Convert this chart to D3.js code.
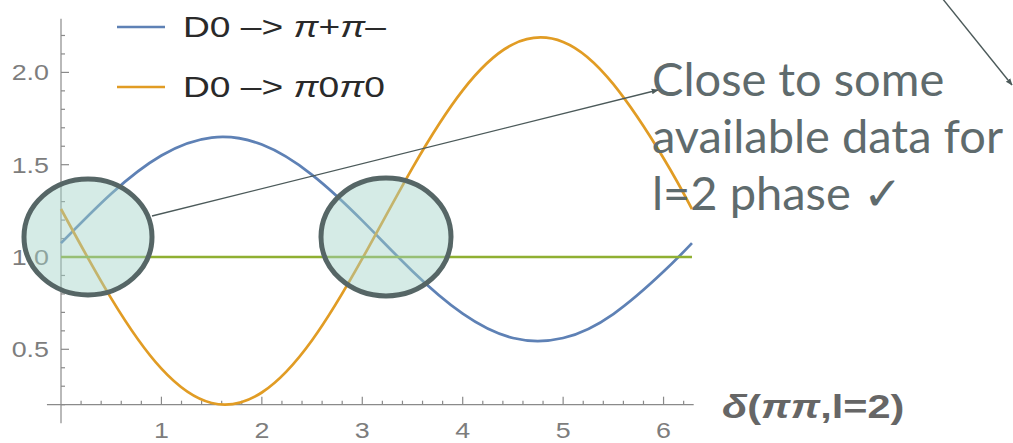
<!DOCTYPE html>
<html>
<head>
<meta charset="utf-8">
<script src="https://cdn.jsdelivr.net/npm/d3@7"></script>
<style>
  html, body { margin: 0; padding: 0; background: #fff; }
  svg { display: block; }
</style>
</head>
<body>
<svg id="chart" width="1013" height="443"></svg>
<script>
// Sample points of the phase scan (delta in radians)
const delta = [0, 0.5, 1.0, 1.5, 2.0, 2.5, 3.0, 3.5, 4.0, 4.5, 5.0, 5.5, 6.0, 6.283];
// Ratio for D0 -> pi+ pi-
const ratioPiPi = [1.075, 1.343, 1.550, 1.647, 1.609, 1.445, 1.197, 0.923, 0.693, 0.561, 0.561, 0.691, 0.921, 1.075];
// Ratio for D0 -> pi0 pi0
const ratioPi0Pi0 = [1.260, 0.776, 0.395, 0.209, 0.266, 0.549, 0.991, 1.483, 1.903, 2.152, 2.165, 1.936, 1.535, 1.260];
// Reference level
const refLevel = [1.0, 1.0];
const refDelta = [0, 6.283];

const xMajor = [1, 2, 3, 4, 5, 6];
const yMajor = [0.5, 1.0, 1.5, 2.0];

const svg = d3.select("#chart");

const x = d3.scaleLinear().domain([0, 2 * Math.PI]).range([61, 692]);
const y = d3.scaleLinear().domain([1.0, 2.0]).range([257, 72.4]);

const axisColor = "#8a8a8a";
const tickFont = "'Liberation Sans', Arial, sans-serif";

// text placed at (px, py), stretched horizontally by sx
function stretchedText(parent, px, py, sx) {
  return parent.append("text")
    .attr("transform", `translate(${px},${py}) scale(${sx},1)`);
}

// ---- axes ----
const axes = svg.append("g");
// x axis crosses at y = 0.2
const xAxisY = y(0.2);
axes.append("line")
  .attr("x1", x(-0.14)).attr("x2", x(6.3))
  .attr("y1", xAxisY).attr("y2", xAxisY)
  .attr("stroke", axisColor).attr("stroke-width", 1.2);
axes.append("line")
  .attr("x1", x(0)).attr("x2", x(0))
  .attr("y1", y(2.29)).attr("y2", y(0.1))
  .attr("stroke", axisColor).attr("stroke-width", 1.2);

// x ticks (minor every 0.2, major on integers)
const xMinor = d3.range(1, 32).map(i => +(i * 0.2).toFixed(2)).filter(v => v <= 6.3);
axes.selectAll(".xt").data(xMinor).enter().append("line")
  .attr("x1", d => x(d)).attr("x2", d => x(d))
  .attr("y1", xAxisY)
  .attr("y2", d => xAxisY - (xMajor.includes(d) ? 8 : 4))
  .attr("stroke", axisColor).attr("stroke-width", 1.2);
xMajor.forEach(d => {
  stretchedText(axes, x(d), 438, 1.22)
    .attr("text-anchor", "middle")
    .attr("font-family", tickFont).attr("font-size", 22)
    .attr("fill", "#7d7d7d")
    .text(d);
});

// y ticks (minor every 0.1, major every 0.5)
const yMinor = d3.range(2, 23).map(i => +(i * 0.1).toFixed(2));
axes.selectAll(".yt").data(yMinor).enter().append("line")
  .attr("x1", x(0))
  .attr("x2", d => x(0) + (yMajor.some(m => Math.abs(m - d) < 1e-6) ? 8 : 4))
  .attr("y1", d => y(d)).attr("y2", d => y(d))
  .attr("stroke", axisColor).attr("stroke-width", 1.2);
yMajor.forEach(d => {
  stretchedText(axes, 49, y(d) + 8, 1.22)
    .attr("text-anchor", "end")
    .attr("font-family", tickFont).attr("font-size", 22)
    .attr("fill", "#7d7d7d")
    .text(d.toFixed(1));
});

// axis label
const xl = stretchedText(svg, 722, 418, 1.22)
  .attr("font-family", tickFont).attr("font-size", 34)
  .attr("font-weight", "bold").attr("fill", "#666");
xl.append("tspan").attr("font-style", "italic").text("δ");
xl.append("tspan").text("(");
xl.append("tspan").attr("font-style", "italic").text("ππ");
xl.append("tspan").text(",l=2)");

// ---- curves ----
const line = d3.line()
  .x(d => x(d[0])).y(d => y(d[1]))
  .curve(d3.curveNatural);

const series = [
  { vals: ratioPiPi, xs: delta, color: "#5e81b5" },
  { vals: ratioPi0Pi0, xs: delta, color: "#e19c24" },
  { vals: refLevel, xs: refDelta, color: "#8fb032" }
];
svg.append("g").selectAll("path").data(series).enter().append("path")
  .attr("d", s => line(s.xs.map((d, i) => [d, s.vals[i]])))
  .attr("fill", "none")
  .attr("stroke", s => s.color)
  .attr("stroke-width", 2.7);

// ---- legend ----
const legend = [
  { color: "#5e81b5", y: 27, parts: [["D0 –> ", false], ["π", true], ["+", false], ["π", true], ["–", false]] },
  { color: "#e19c24", y: 87, parts: [["D0 –> ", false], ["π", true], ["0", false], ["π", true], ["0", false]] }
];
const lg = svg.append("g");
legend.forEach(l => {
  lg.append("line").attr("x1", 117).attr("x2", 165).attr("y1", l.y).attr("y2", l.y)
    .attr("stroke", l.color).attr("stroke-width", 2.7);
  const t = stretchedText(lg, 183, l.y + 10, 1.24)
    .attr("font-family", tickFont).attr("font-size", 30).attr("fill", "#2a2a2a");
  l.parts.forEach(p => t.append("tspan").attr("font-style", p[1] ? "italic" : "normal").text(p[0]));
});

// ---- annotation ----
const ann = svg.append("g");
const defs = svg.append("defs");
defs.append("marker").attr("id", "arrow")
  .attr("viewBox", "0 0 10 10").attr("refX", 9).attr("refY", 5)
  .attr("markerWidth", 7).attr("markerHeight", 7).attr("orient", "auto")
  .attr("markerUnits", "userSpaceOnUse")
  .append("path").attr("d", "M0,1 L10,5 L0,9 Z").attr("fill", "#4c5a5a");

// highlight ellipses around the crossings
const rings = [
  { cx: 88, cy: 237, rx: 64, ry: 58 },
  { cx: 386, cy: 237, rx: 65, ry: 59 }
];
ann.selectAll("ellipse").data(rings).enter().append("ellipse")
  .attr("cx", d => d.cx).attr("cy", d => d.cy)
  .attr("rx", d => d.rx).attr("ry", d => d.ry)
  .attr("fill", "rgba(162,211,199,0.45)")
  .attr("stroke", "#566666").attr("stroke-width", 5);

ann.append("line")
  .attr("x1", 152).attr("y1", 216).attr("x2", 658).attr("y2", 90)
  .attr("stroke", "#4c5a5a").attr("stroke-width", 1.4)
  .attr("marker-end", "url(#arrow)");
ann.append("line")
  .attr("x1", 942).attr("y1", -2).attr("x2", 1012).attr("y2", 85)
  .attr("stroke", "#4c5a5a").attr("stroke-width", 1.4)
  .attr("marker-end", "url(#arrow)");

const noteLines = ["Close to some", "available data for", "l=2 phase ✓"];
ann.selectAll(".note").data(noteLines).enter().append("text")
  .attr("x", 652).attr("y", (d, i) => 96 + i * 57)
  .attr("font-family", "Lato, sans-serif").attr("font-size", 47)
  .attr("fill", "#5f6b6d")
  .text(d => d);
</script>
</body>
</html>
